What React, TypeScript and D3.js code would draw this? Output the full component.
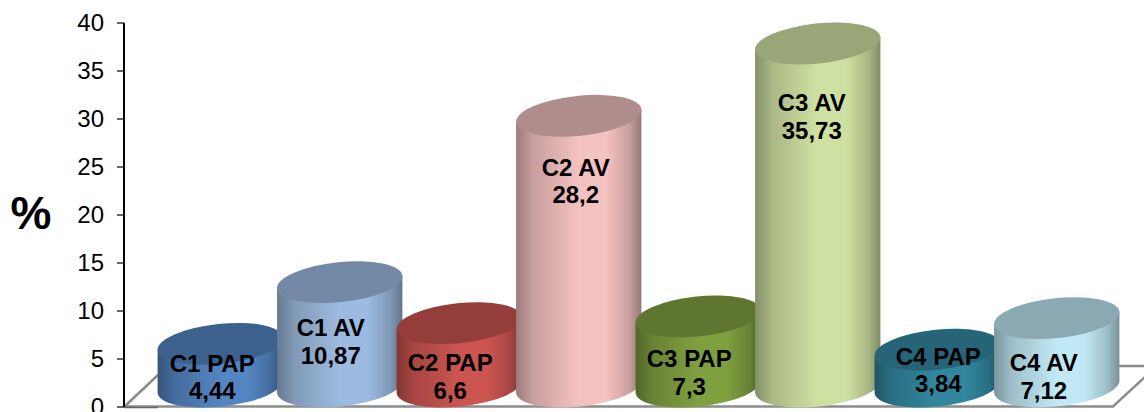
import React from "react";
import * as d3 from "d3";

const categories = ["C1 PAP", "C1 AV", "C2 PAP", "C2 AV", "C3 PAP", "C3 AV", "C4 PAP", "C4 AV"];
const values = [4.44, 10.87, 6.6, 28.2, 7.3, 35.73, 3.84, 7.12];
const valueLabels = ["4,44", "10,87", "6,6", "28,2", "7,3", "35,73", "3,84", "7,12"];
const tickValues = [0, 5, 10, 15, 20, 25, 30, 35, 40];
const bodyColors = ["#5485c2", "#9dbbe0", "#cc5550", "#f4c2c1", "#80a040", "#cfe1a2", "#32879f", "#c0e9f5"];
const capColors = ["#3d618e", "#7389a5", "#933e3b", "#ae8d8c", "#5f7630", "#98a678", "#266578", "#8ba9b3"];

const labelDx = [-8, -9, -9, -3, -9, -6, 1, -13];
const labelDy = [20, 46, 40, 52, 43, 60, 7, 45];

export default function App() {
  const W = 1144, H = 412;
  const y = d3.scaleLinear().domain([0, 40]).range([407, 23]);
  const x = d3.scaleBand<string>().domain(categories).range([160.5, 1116.5]).paddingInner(0).paddingOuter(0);
  const rx = 63, ry = 20, tiltDeg = -6;
  const rad = (tiltDeg * Math.PI) / 180;
  const ex = rx * Math.cos(rad), ey = rx * Math.sin(rad);
  const baseLift = 20.5;
  const floor = d3.line()([[124, 407], [158, 375]]) || "";
  return (
    <svg width={W} height={H} style={{ position: "absolute", left: 0, top: 0, background: "#fff" }}
      fontFamily="'Liberation Sans', Arial, sans-serif">
      <defs>
        {categories.map((c, i) => {
          const col = d3.rgb(bodyColors[i]);
          return (
            <linearGradient key={c} id={`g${i}`} x1="0" x2="1" y1="0" y2="0">
              <stop offset="0" stopColor={col.darker(1.25).formatHex()} />
              <stop offset="0.14" stopColor={col.darker(0.55).formatHex()} />
              <stop offset="0.5" stopColor={col.formatHex()} />
              <stop offset="0.72" stopColor={col.formatHex()} />
              <stop offset="0.9" stopColor={col.darker(0.55).formatHex()} />
              <stop offset="1" stopColor={col.darker(1.35).formatHex()} />
            </linearGradient>
          );
        })}
      </defs>
      <g fill="none" stroke="#8c8c8c" strokeWidth={2.5}>
        <path d={floor} />
        <path d="M124 406.5H1113L1146 376" />
        <path d="M1100 366H1144" />
      </g>
      <line x1={124} x2={124} y1={y(40)} y2={y(0)} stroke="#000" strokeWidth={2} />
      <line x1={124} x2={158} y1={407.5} y2={407.5} stroke="#666" strokeWidth={1.5} />
      {tickValues.map((t) => (
        <g key={t}>
          <line x1={117} x2={124} y1={y(t)} y2={y(t)} stroke="#000" strokeWidth={1.2} />
          <text x={104} y={y(t) + 8} textAnchor="end" fontSize={24} fill="#000">{t}</text>
        </g>
      ))}
      <text x={31} y={229} textAnchor="middle" fontSize={46} fontWeight="bold" fill="#000">%</text>
      {categories.map((c, i) => {
        const cx = (x(c) as number) + x.bandwidth() / 2;
        const by = y(0) - baseLift;
        const ty = y(values[i]) - baseLift;
        const d = `M${cx - ex} ${ty - ey}L${cx - ex} ${by - ey}A${rx} ${ry} ${tiltDeg} 0 0 ${cx + ex} ${by + ey}L${cx + ex} ${ty + ey}Z`;
        return (
          <g key={c}>
            <path d={d} fill={`url(#g${i})`} />
            <ellipse cx={cx} cy={ty} rx={rx} ry={ry} fill={capColors[i]} transform={`rotate(${tiltDeg} ${cx} ${ty})`} />
          </g>
        );
      })}
      {categories.map((c, i) => {
        const cx = (x(c) as number) + x.bandwidth() / 2 + labelDx[i];
        const ty = y(values[i]) - baseLift + labelDy[i];
        return (
          <text key={c} x={cx} textAnchor="middle" fontSize={24} fontWeight="bold" fill="#000">
            <tspan x={cx} y={ty + 8}>{c}</tspan>
            <tspan x={cx} y={ty + 35.5}>{valueLabels[i]}</tspan>
          </text>
        );
      })}
    </svg>
  );
}
